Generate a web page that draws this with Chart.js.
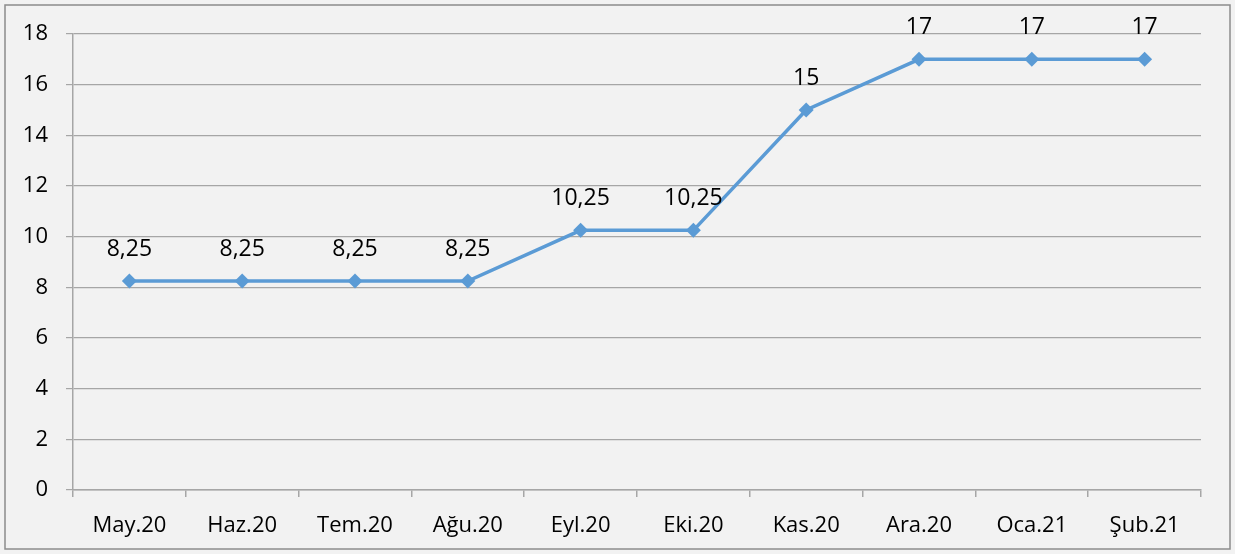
<!DOCTYPE html>
<html lang="tr">
<head>
  <meta charset="UTF-8" />
  <title>Faiz Oranı</title>
  <script src="https://cdn.jsdelivr.net/npm/chart.js"></script>
  <style>
    html, body { margin: 0; padding: 0; background: #f2f2f2; }
    #wrap { width: 1235px; height: 554px; position: relative; }
  </style>
</head>
<body>
  <div id="wrap"><canvas id="rateChart"></canvas></div>

<script>
  const months = ['May.20', 'Haz.20', 'Tem.20', 'Ağu.20', 'Eyl.20', 'Eki.20', 'Kas.20', 'Ara.20', 'Oca.21', 'Şub.21'];
  const rates = [8.25, 8.25, 8.25, 8.25, 10.25, 10.25, 15, 17, 17, 17];
  const rateLabels = ['8,25', '8,25', '8,25', '8,25', '10,25', '10,25', '15', '17', '17', '17'];
  const yTicks = [0, 2, 4, 6, 8, 10, 12, 14, 16, 18];

  const fontFamily = "'Open Sans', 'Noto Sans', sans-serif";
  const gridGray = '#a6a6a6';

  // background + outer frame
  const framePlugin = {
    id: 'frame',
    beforeDraw(chart) {
      const c = chart.ctx;
      c.save();
      c.fillStyle = '#f2f2f2';
      c.fillRect(0, 0, chart.width, chart.height);
      c.strokeStyle = '#8c8c8c';
      c.lineWidth = 1.5;
      c.strokeRect(5, 5, chart.width - 10, chart.height - 10);
      c.restore();
    }
  };

  // value labels above points
  const valueLabels = {
    id: 'valueLabels',
    afterDatasetsDraw(chart) {
      const c = chart.ctx;
      const meta = chart.getDatasetMeta(0);
      c.save();
      c.font = '23px ' + fontFamily;
      c.fillStyle = '#000';
      c.textAlign = 'center';
      c.textBaseline = 'middle';
      meta.data.forEach((pt, i) => {
        c.fillText(rateLabels[i], pt.x, pt.y - 32);
      });
      c.restore();
    }
  };

  new Chart(document.getElementById('rateChart'), {
    type: 'line',
    data: {
      labels: months,
      datasets: [{
        data: rates,
        borderColor: '#5b9bd5',
        backgroundColor: '#5b9bd5',
        borderWidth: 3.5,
        pointStyle: 'rectRot',
        pointRadius: 7.5,
        pointBorderWidth: 0,
        tension: 0
      }]
    },
    options: {
      responsive: true,
      maintainAspectRatio: false,
      animation: false,
      layout: { padding: { top: 34, right: 34, left: 0, bottom: 0 } },
      plugins: { legend: { display: false }, tooltip: { enabled: false } },
      scales: {
        x: {
          offset: true,
          afterFit(s) { s.height = 64; },
          grid: {
            offset: true,
            drawOnChartArea: false,
            tickLength: 7,
            color: gridGray,
            lineWidth: 1.5
          },
          border: { color: gridGray, width: 1.5 },
          ticks: {
            padding: 16,
            color: '#000',
            font: { family: fontFamily, size: 22 },
            maxRotation: 0
          }
        },
        y: {
          min: 0,
          max: 18,
          afterFit(s) { s.width = 73; },
          afterBuildTicks(s) { s.ticks = yTicks.map(v => ({ value: v })); },
          grid: {
            tickLength: 7,
            color: gridGray,
            lineWidth: 1.2
          },
          border: { color: gridGray, width: 1.5 },
          ticks: {
            padding: 18,
            color: '#000',
            font: { family: fontFamily, size: 22 }
          }
        }
      }
    },
    plugins: [framePlugin, valueLabels]
  });
</script>
</body>
</html>
